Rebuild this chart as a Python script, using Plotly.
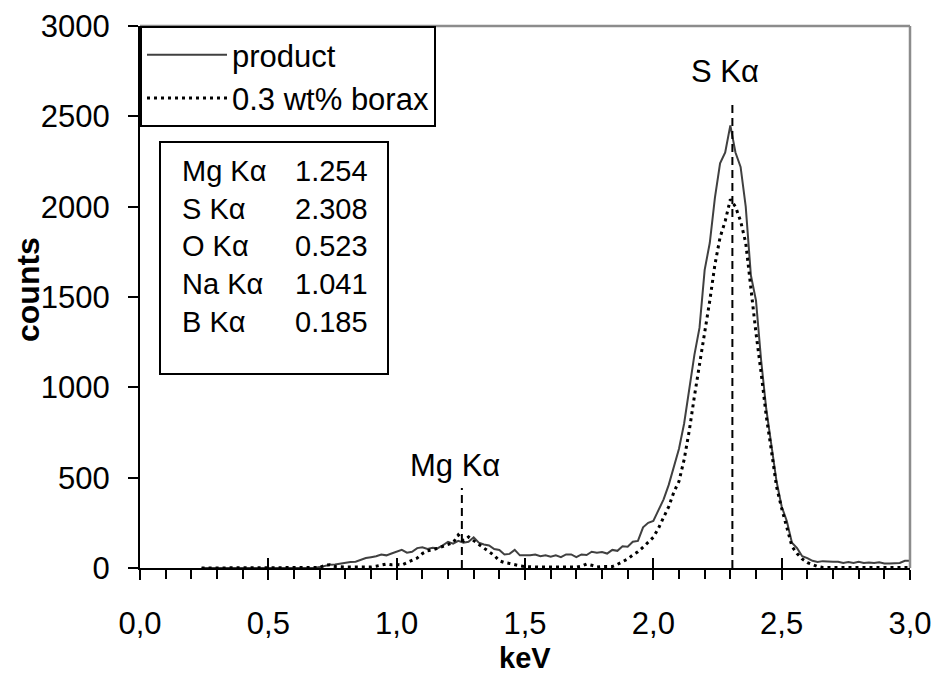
import numpy as np
import plotly.graph_objects as go

# EDS spectra, 20 eV channels from 0.24 keV to 3.00 keV
energy_start = 0.24
channel_width = 0.02
n_channels = 139

counts_product = [
    0, 0, 0, 0, 0, 0, 0, 0, 0, 0, 0, 0, 0, 0, 0, 0, 0, 0, 0, 0, 0, 0, 0,
    5, 12, 18, 20, 25, 30, 33, 35, 45, 55, 60, 65, 75, 70, 80, 90, 100, 85,
    90, 110, 115, 105, 112, 110, 125, 145, 135, 150, 140, 145, 170, 140, 130,
    125, 105, 100, 75, 78, 100, 70, 70, 70, 75, 65, 70, 62, 70, 60, 75, 75,
    60, 75, 72, 90, 85, 88, 80, 100, 95, 120, 118, 145, 150, 225, 250, 260,
    320, 380, 460, 560, 660, 800, 980, 1180, 1330, 1650, 1800, 2050, 2240,
    2300, 2450, 2300, 2220, 2000, 1620, 1480, 1150, 880, 680, 480, 340, 260,
    140, 110, 65, 55, 40, 33, 38, 35, 35, 35, 28, 33, 28, 35, 28, 30, 28, 32,
    25, 25, 25, 28, 40, 40,
]

counts_borax = [
    0, 0, 0, 0, 0, 0, 0, 0, 0, 0, 0, 0, 0, 0, 0, 0, 0, 0, 0, 0, 0, 0, 0,
    3, 15, 18, 8, 5, 5, 5, 5, 5, 5, 5, 10, 17, 22, 18, 20, 17, 30, 45, 55,
    80, 95, 100, 110, 120, 127, 140, 183, 150, 172, 150, 130, 110, 90, 70,
    40, 30, 25, 17, 12, 8, 6, 5, 5, 5, 5, 5, 5, 5, 5, 5, 10, 22, 15, 6, 8,
    8, 8, 20, 35, 50, 72, 90, 115, 140, 170, 220, 280, 340, 420, 480, 600,
    760, 950, 1120, 1300, 1480, 1680, 1830, 1920, 2040, 2000, 1920, 1800,
    1530, 1300, 1080, 840, 650, 450, 330, 220, 120, 80, 50, 30, 20, 8, 3, 3,
    3, 3, 3, 3, 3, 3, 3, 3, 3, 3, 3, 3, 3, 3, 3, 3,
]

energy = np.round(energy_start + channel_width * np.arange(n_channels), 2)

# Line table (keV)
lines = ["Mg Kα", "S Kα", "O Kα", "Na Kα", "B Kα"]
line_energy = [1.254, 2.308, 0.523, 1.041, 0.185]

# Marked peaks: label, height of the dashed marker, label height
marked = ["Mg Kα", "S Kα"]
marker_top = [443, 2590]
label_y = [565, 2750]

FONT = "Liberation Sans, Arial, sans-serif"
FS = 31

fig = go.Figure()

fig.add_trace(go.Scatter(
    x=energy, y=counts_product, mode="lines", name="product",
    line=dict(color="#404040", width=2),
))
fig.add_trace(go.Scatter(
    x=energy, y=counts_borax, mode="lines", name="0.3 wt% borax",
    line=dict(color="black", width=3, dash="3px,4px"),
))

for name, top in zip(marked, marker_top):
    e = line_energy[lines.index(name)]
    fig.add_trace(go.Scatter(
        x=[e, e], y=[0, top], mode="lines", showlegend=False,
        xaxis="x2", yaxis="y",
        line=dict(color="black", width=2, dash="8px,5px"),
        hoverinfo="skip",
    ))

annotations = []
for name, ly in zip(marked, label_y):
    e = line_energy[lines.index(name)]
    annotations.append(dict(
        x=e, y=ly, xref="x", yref="y", text=name, showarrow=False,
        xanchor="center", yanchor="middle", xshift=-7,
        font=dict(family=FONT, size=FS, color="black"),
    ))

# Table of line energies in a framed box
annotations.append(dict(
    x=(159 - 140) / 770, y=(568 - 141) / 542, xref="paper", yref="paper",
    xanchor="left", yanchor="top", text="", showarrow=False,
    width=226, height=230, bordercolor="black", borderwidth=2,
    bgcolor="white", borderpad=0,
))
annotations.append(dict(
    x=(180 - 140) / 770, y=(568 - 246) / 542, xref="paper", yref="paper",
    xanchor="left", yanchor="middle", align="left", showarrow=False,
    text="<br>".join(lines),
    font=dict(family=FONT, size=29, color="black"),
))
annotations.append(dict(
    x=(293 - 140) / 770, y=(568 - 246) / 542, xref="paper", yref="paper",
    xanchor="left", yanchor="middle", align="left", showarrow=False,
    text="<br>".join(f"{v:.3f}" for v in line_energy),
    font=dict(family=FONT, size=29, color="black"),
))

# Axis titles
annotations.append(dict(
    x=0.5, y=(568 - 658) / 542, xref="paper", yref="paper",
    xanchor="center", yanchor="middle", showarrow=False, borderpad=0,
    text="<b>keV</b>", font=dict(family=FONT, size=29, color="black"),
))
annotations.append(dict(
    x=(28 - 140) / 770, y=(568 - 290) / 542, xref="paper", yref="paper",
    xanchor="center", yanchor="middle", showarrow=False, textangle=-90,
    text="<b>counts</b>", font=dict(family=FONT, size=32, color="black"),
))

fig.update_layout(
    width=934, height=677,
    margin=dict(l=140, r=24, t=26, b=109, autoexpand=False),
    paper_bgcolor="white", plot_bgcolor="white",
    separators=",.",
    font=dict(family=FONT, size=FS, color="black"),
    showlegend=True,
    legend=dict(
        x=0, y=1, xanchor="left", yanchor="top",
        bgcolor="white", bordercolor="black", borderwidth=2,
        font=dict(family=FONT, size=FS, color="black"),
        itemwidth=80, tracegroupgap=0,
    ),
    xaxis=dict(
        range=[0, 3], dtick=0.5, tick0=0, tickformat=".1f",
        showgrid=False, zeroline=False, automargin=False,
        showline=True, linecolor="black", linewidth=2,
        ticks="outside", ticklen=10, tickwidth=1.5, tickcolor="black",
        minor=dict(dtick=0.1, ticks="outside", ticklen=9, tickwidth=1.5,
                   tickcolor="black", showgrid=False),
        ticklabelstandoff=17,
        tickfont=dict(family=FONT, size=FS),
    ),
    xaxis2=dict(
        matches="x", overlaying="x", anchor="y", side="bottom",
        showgrid=False, zeroline=False, showline=False, automargin=False,
        ticks="inside", ticklen=10, tickwidth=1.5, tickcolor="black",
        dtick=0.5, tick0=0, showticklabels=False,
    ),
    yaxis=dict(
        range=[0, 3000], dtick=500, tick0=0, tickformat="d",
        showgrid=False, zeroline=False, automargin=False,
        showline=True, linecolor="black", linewidth=2,
        ticks="outside", ticklen=10, tickwidth=1.5, tickcolor="black",
        ticklabelstandoff=12,
        tickfont=dict(family=FONT, size=FS),
    ),
    annotations=annotations,
    shapes=[
        dict(type="line", xref="x domain", yref="y domain", x0=0, x1=1, y0=1, y1=1,
             line=dict(color="#8c8c8c", width=2.5)),
        dict(type="line", xref="x domain", yref="y domain", x0=1, x1=1, y0=0, y1=1,
             line=dict(color="#8c8c8c", width=2.5)),
    ],
)

fig.write_html("out.html")
